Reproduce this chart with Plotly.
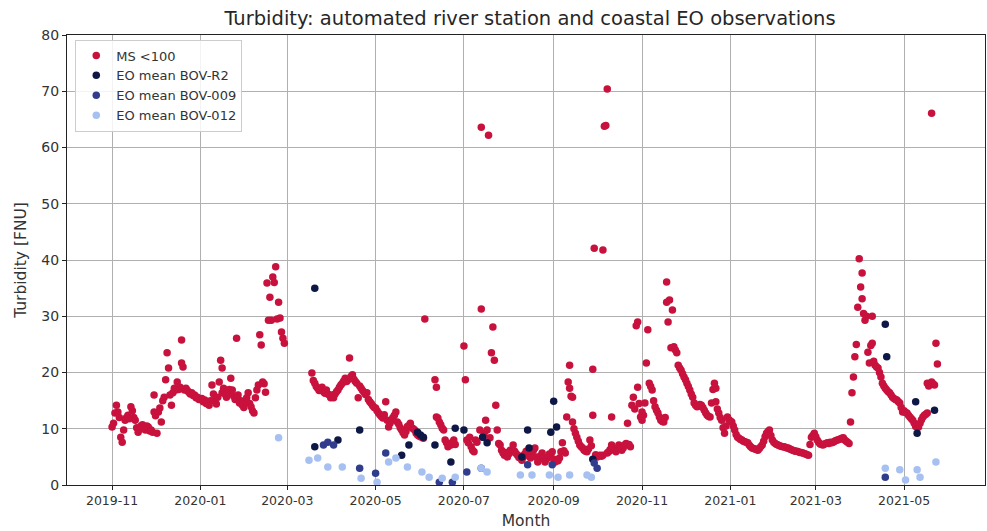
import plotly.graph_objects as go

# ---- MS <100 : automated river station, (day, turbidity FNU) per month ----
ms_2019_11 = [(1,10.3),(2,11.0),(3,12.8),(4,14.2),(5,13.0),(6,12.0),(7,8.5),(8,7.6),(9,9.8),(10,11.5),
              (11,12.0),(12,12.4),(13,11.8),(14,13.9),(15,13.2),(16,12.0),(17,11.5),(18,10.2),(19,9.4),(20,10.0),
              (21,10.5),(22,10.7),(23,10.0),(24,9.8),(25,10.5),(26,10.3),(27,9.6),(28,9.8),(29,9.4),(30,13.0),(30,16.0)]
ms_2019_12 = [(1,12.3),(2,9.2),(3,13.0),(4,13.7),(5,11.2),(6,15.0),(7,15.6),(8,18.7),(9,23.5),(10,20.8),
              (11,16.0),(12,14.2),(13,16.4),(14,17.2),(15,16.9),(16,18.3),(17,17.0),(18,17.4),(19,25.8),(19,21.7),
              (20,21.0),(21,16.9),(22,17.2),(23,16.8),(24,16.5),(25,16.2),(26,16.4),(27,15.9),(28,16.0),(29,15.5),
              (30,15.6),(31,15.2)]
ms_2020_01 = [(2,15.4),(3,14.8),(4,15.1),(5,14.5),(7,14.2),(8,15.0),(9,17.8),(10,16.2),(11,15.1),(12,14.4),
              (13,15.6),(14,18.3),(15,22.2),(16,20.8),(16,16.4),(17,17.2),(18,16.2),(19,15.6),(20,16.4),(21,17.0),
              (22,19.0),(23,16.9),(24,15.8),(25,15.2),(26,26.1),(27,16.0),(28,14.6),(29,15.0),(30,14.2),(31,13.8)]
ms_2020_02 = [(1,14.8),(2,15.5),(3,16.4),(4,14.5),(5,13.9),(6,13.2),(7,12.8),(8,15.5),(9,16.9),(10,17.8),
              (11,26.7),(12,24.9),(13,18.3),(14,18.0),(15,16.5),(16,35.9),(17,29.3),(18,33.4),(19,29.3),(20,37.0),
              (21,36.0),(22,38.8),(23,29.5),(24,32.5),(25,29.7),(26,27.2),(27,26.1),(28,25.2)]
ms_2020_03 = [(18,19.9),(19,18.6),(20,18.1),(21,17.5),(22,17.2),(23,16.8),(24,17.0),(25,17.4),(26,16.6),
              (27,16.3),(28,16.9),(29,16.2),(30,16.0),(31,15.5)]
ms_2020_04 = [(1,16.0),(2,15.5),(3,16.2),(4,16.6),(5,16.9),(6,17.4),(7,17.8),(8,18.1),(9,18.5),(10,19.0),
              (11,18.4),(12,18.7),(13,22.6),(14,19.3),(15,19.6),(16,18.8),(17,18.4),(18,18.1),(19,15.5),(20,17.6),
              (21,17.2),(22,16.8),(23,16.5),(24,16.1),(25,16.4),(26,15.2),(27,14.8),(28,14.5),(29,14.1),(30,13.8)]
ms_2020_05 = [(1,13.7),(2,13.2),(3,12.8),(4,12.5),(5,12.2),(6,11.9),(7,12.5),(8,14.8),(9,11.5),(10,10.3),
              (11,11.0),(12,11.6),(13,12.0),(14,12.4),(15,13.0),(16,11.2),(17,10.8),(18,10.2),(19,9.8),(20,9.3),
              (21,8.9),(22,9.5),(23,10.4),(24,10.6),(25,11.0),(26,10.2),(27,10.0),(28,9.8),(29,9.2),(30,8.9),(31,8.7)]
ms_2020_06 = [(1,8.6),(2,8.5),(3,8.3),(4,29.5),(11,18.7),(12,17.4),(12,12.1),(13,11.9),(14,11.2),(15,10.7),
              (16,10.1),(17,9.8),(18,8.0),(19,7.5),(20,6.8),(21,7.3),(22,7.1),(23,7.6),(24,8.0),(25,7.2)]
ms_2020_07 = [(1,24.7),(2,18.7),(3,8.0),(4,7.5),(5,8.5),(6,6.8),(7,6.2),(8,5.9),(9,8.0),(10,7.6),
              (12,9.8),(13,63.6),(13,31.3),(14,8.5),(15,9.2),(16,11.5),(17,9.8),(18,62.2),(19,8.4),(20,23.5),
              (21,28.1),(22,22.2),(23,14.2),(24,9.8),(25,7.4),(26,7.1),(27,6.2),(28,5.7),(29,5.3),(30,5.8),(31,5.0)]
ms_2020_08 = [(1,5.5),(2,6.2),(3,5.9),(4,7.1),(5,6.0),(6,5.6),(7,5.3),(8,4.9),(9,5.1),(10,4.4),
              (11,5.0),(12,5.5),(13,6.0),(14,5.7),(15,5.2),(16,4.8),(17,5.5),(18,6.2),(19,6.6),(20,5.0),
              (21,4.1),(22,4.6),(23,5.2),(24,5.7),(25,4.8),(26,4.1),(27,4.6),(28,5.0),(29,5.5),(30,5.2),(31,5.9)]
ms_2020_09 = [(1,4.6),(2,4.1),(3,4.5),(4,4.3),(5,4.8),(6,5.9),(7,7.5),(8,6.1),(9,5.7),(10,12.1),
              (11,18.3),(12,21.3),(12,17.2),(13,15.8),(14,15.6),(14,11.2),(15,10.0),(16,9.2),(17,8.5),(18,7.8),
              (19,7.1),(20,6.8),(21,6.6),(22,6.2),(23,6.0),(24,5.9),(25,6.4),(26,8.0),(27,7.0),(28,20.6),
              (28,12.4),(29,42.1),(30,5.4)]
ms_2020_10 = [(1,5.0),(2,5.2),(3,5.3),(4,5.1),(5,41.8),(5,5.3),(6,63.8),(7,63.9),(8,5.7),(8,70.4),
              (9,5.9),(10,6.3),(11,12.1),(11,7.1),(12,6.6),(13,6.2),(14,5.9),(15,6.5),(16,7.1),(17,6.8),
              (18,6.2),(19,6.6),(20,7.1),(21,7.4),(22,11.0),(23,7.2),(24,6.8),(25,14.2),(26,15.6),(27,13.5),
              (28,28.3),(29,29.0),(29,17.4),(30,14.5),(31,12.1)]
ms_2020_11 = [(1,13.0),(1,11.5),(2,12.4),(3,14.6),(4,21.7),(5,27.6),(6,18.1),(7,17.5),(8,16.9),(9,15.0),
              (10,13.9),(11,13.3),(12,12.8),(13,12.1),(14,11.5),(15,11.3),(16,11.2),(17,12.0),(18,32.5),(18,36.1),
              (19,29.0),(20,32.9),(21,24.4),(22,31.1),(23,24.6),(24,24.0),(25,23.5),(26,21.3),(27,20.8),(28,20.4),
              (29,19.8),(30,19.2)]
ms_2020_12 = [(1,18.7),(2,18.1),(3,17.5),(4,16.9),(5,16.2),(6,15.6),(7,14.6),(8,14.2),(9,13.9),(10,14.0),
              (11,14.3),(12,14.2),(13,13.8),(14,13.3),(15,12.8),(16,12.4),(17,12.2),(18,12.1),(19,14.6),(20,17.0),
              (21,18.1),(22,17.2),(22,14.8),(23,13.5),(24,12.8),(25,12.0),(26,11.5),(27,10.2),(28,9.2),(29,10.5),
              (30,12.1),(31,11.6)]
ms_2021_01 = [(1,11.4),(2,11.2),(3,10.5),(4,9.8),(5,9.0),(6,8.5),(7,8.3),(8,8.1),(9,8.0),(10,7.8),
              (11,7.7),(12,7.6),(13,7.5),(14,7.1),(15,6.8),(16,6.6),(17,6.5),(18,6.4),(19,6.3),(20,6.2),
              (21,6.5),(22,6.8),(23,7.1),(24,7.8),(25,8.6),(26,9.2),(27,9.5),(28,9.8),(29,8.8),(30,8.0),(31,7.6)]
ms_2021_02 = [(1,7.4),(2,7.2),(3,7.1),(4,7.0),(5,6.9),(6,6.8),(7,6.8),(8,6.7),(9,6.6),(10,6.6),
              (11,6.4),(12,6.3),(13,6.2),(14,6.1),(15,6.0),(16,6.0),(17,5.9),(18,5.8),(19,5.8),(20,5.7),
              (21,5.6),(22,5.5),(23,5.4),(24,5.3),(25,7.2),(26,8.5),(27,8.8),(28,9.2)]
ms_2021_03 = [(1,8.6),(2,8.0),(3,7.6),(4,7.3),(5,7.2),(6,7.1),(7,7.3),(8,7.4),(9,7.5),(10,7.4),
              (11,7.6),(12,7.5),(13,7.6),(14,7.8),(15,7.9),(16,8.0),(17,8.1),(18,8.2),(19,8.3),(20,8.4),
              (21,8.0),(22,7.8),(23,7.6),(24,7.4),(25,11.2),(26,16.4),(27,19.2),(28,22.8),(29,25.0),(30,31.6),(31,40.2)]
ms_2021_04 = [(1,35.2),(2,37.7),(2,33.1),(3,30.5),(4,29.3),(5,30.0),(6,23.6),(7,21.7),(8,24.8),(9,25.2),
              (9,30.0),(10,22.0),(11,21.3),(12,21.0),(13,20.8),(14,20.0),(15,19.2),(16,18.1),(17,17.6),(18,17.2),
              (19,16.9),(20,16.6),(21,16.4),(22,16.0),(23,15.6),(24,15.4),(25,15.2),(26,15.1),(27,14.8),(28,14.6),
              (29,13.8),(30,13.0)]
ms_2021_05 = [(1,13.2),(2,12.9),(3,12.8),(4,12.4),(5,12.1),(6,11.8),(7,11.5),(8,11.0),(9,10.4),(10,10.7),
              (11,10.3),(12,11.0),(13,11.6),(14,12.1),(15,12.4),(16,12.6),(17,12.8),(17,18.1),(18,17.6),(19,17.9),
              (20,18.3),(20,66.1),(21,18.0),(22,17.8),(23,25.2),(24,21.5)]

ms_months = [("2019-11", ms_2019_11), ("2019-12", ms_2019_12), ("2020-01", ms_2020_01),
             ("2020-02", ms_2020_02), ("2020-03", ms_2020_03), ("2020-04", ms_2020_04),
             ("2020-05", ms_2020_05), ("2020-06", ms_2020_06), ("2020-07", ms_2020_07),
             ("2020-08", ms_2020_08), ("2020-09", ms_2020_09), ("2020-10", ms_2020_10),
             ("2020-11", ms_2020_11), ("2020-12", ms_2020_12), ("2021-01", ms_2021_01),
             ("2021-02", ms_2021_02), ("2021-03", ms_2021_03), ("2021-04", ms_2021_04),
             ("2021-05", ms_2021_05)]

ms_dates = [f"{ym}-{d:02d}" for ym, rows in ms_months for d, _ in rows]
ms_values = [v for _, rows in ms_months for _, v in rows]

# ---- EO mean turbidity per coastal box ----
r2_dates = ["2020-03-20", "2020-03-20", "2020-04-05", "2020-04-20", "2020-05-19", "2020-05-24",
            "2020-05-30", "2020-06-01", "2020-06-03", "2020-06-11", "2020-06-22", "2020-06-25",
            "2020-07-01", "2020-07-14", "2020-07-17", "2020-08-10", "2020-08-14", "2020-08-15",
            "2020-08-30", "2020-09-01", "2020-09-03", "2020-09-28", "2021-04-18", "2021-04-19",
            "2021-05-09", "2021-05-10", "2021-05-22"]
r2_values = [35.0, 6.8, 8.0, 9.8, 5.3, 7.1,
             9.4, 8.9, 8.5, 7.1, 4.1, 10.1,
             9.8, 8.5, 7.5, 5.0, 9.8, 6.6,
             9.4, 14.9, 10.3, 4.6, 28.6, 22.8,
             14.8, 9.2, 13.3]

b009_dates = ["2020-03-26", "2020-03-29", "2020-04-02", "2020-04-20", "2020-05-01", "2020-05-08",
              "2020-06-14", "2020-06-23", "2020-07-03", "2020-07-13", "2020-08-14", "2020-08-31",
              "2020-09-29", "2020-10-01", "2021-04-18"]
b009_values = [7.1, 7.6, 7.1, 3.0, 2.1, 5.7,
               0.5, 0.5, 2.3, 3.0, 3.6, 3.6,
               3.9, 3.0, 1.4]

b012_dates = ["2020-02-24", "2020-03-16", "2020-03-22", "2020-03-29", "2020-04-08", "2020-04-21",
              "2020-05-02", "2020-05-10", "2020-05-15", "2020-05-23", "2020-06-02", "2020-06-07",
              "2020-06-16", "2020-06-25", "2020-07-13", "2020-07-17", "2020-08-09", "2020-08-17",
              "2020-08-29", "2020-09-04", "2020-09-12", "2020-09-24", "2020-09-27", "2021-04-18",
              "2021-04-28", "2021-05-02", "2021-05-10", "2021-05-12", "2021-05-23"]
b012_values = [8.4, 4.4, 4.8, 3.2, 3.2, 1.2,
               0.5, 4.1, 4.8, 3.2, 2.3, 1.4,
               1.2, 1.4, 3.0, 2.3, 1.8, 1.8,
               1.8, 1.4, 1.8, 1.8, 1.4, 3.0,
               2.7, 0.9, 2.7, 1.4, 4.1]

tick_dates = ["2019-11-01", "2020-01-01", "2020-03-01", "2020-05-01", "2020-07-01",
              "2020-09-01", "2020-11-01", "2021-01-01", "2021-03-01", "2021-05-01"]
tick_labels = ["2019-11", "2020-01", "2020-03", "2020-05", "2020-07",
               "2020-09", "2020-11", "2021-01", "2021-03", "2021-05"]

FONT = "DejaVu Sans"

series = [
    ("MS <100", ms_dates, ms_values, "#c8123d"),
    ("EO mean BOV-R2", r2_dates, r2_values, "#0e1846"),
    ("EO mean BOV-009", b009_dates, b009_values, "#2f3d8c"),
    ("EO mean BOV-012", b012_dates, b012_values, "#a6c0f2"),
]

fig = go.Figure()
for name, xs, ys, color in series:
    fig.add_trace(go.Scatter(x=xs, y=ys, mode="markers", name=name,
                             marker=dict(size=7.5, color=color, line=dict(width=0))))

axis_common = dict(
    showgrid=True, gridcolor="#b0b0b0", gridwidth=1,
    showline=True, linecolor="#222222", linewidth=1, mirror=True,
    ticks="outside", ticklen=4, tickcolor="#222222",
    zeroline=False,
)

fig.update_layout(
    width=987, height=531,
    margin=dict(l=67, r=2, t=35, b=46),
    paper_bgcolor="white", plot_bgcolor="white",
    font=dict(family=FONT, color="#262626"),
    title=dict(text="Turbidity: automated river station and coastal EO observations",
               x=0.537, xanchor="center", y=0.966, yanchor="middle",
               font=dict(size=19.5, family=FONT, color="#262626")),
    xaxis=dict(type="date", range=["2019-09-30 21:00", "2021-06-25 21:00"],
               tickmode="array", tickvals=tick_dates, ticktext=tick_labels,
               tickfont=dict(size=12.5, family=FONT, color="#333333"),
               title=dict(text="Month", font=dict(size=15.5, family=FONT, color="#333333"), standoff=8),
               **axis_common),
    yaxis=dict(range=[0, 80], dtick=10, tick0=0,
               tickfont=dict(size=14, family=FONT, color="#333333"),
               title=dict(text="Turbidity [FNU]", font=dict(size=15.5, family=FONT, color="#333333"), standoff=10),
               **axis_common),
    legend=dict(x=0.009, y=0.99, xanchor="left", yanchor="top",
                bgcolor="rgba(255,255,255,0.85)", bordercolor="#cccccc", borderwidth=1,
                font=dict(size=13, family=FONT, color="#333333"),
                itemsizing="trace"),
    showlegend=True,
)

fig.write_html("out.html")
